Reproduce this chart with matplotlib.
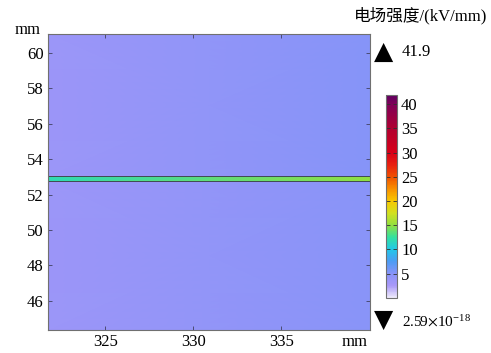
import numpy as np
import matplotlib
matplotlib.use("Agg")
import matplotlib.pyplot as plt
from matplotlib.colors import LinearSegmentedColormap

plt.rcParams['font.family'] = ['Liberation Serif', 'Noto Sans CJK SC', 'DejaVu Sans']
plt.rcParams['font.size'] = 12
plt.rcParams['mathtext.fontset'] = 'stix'

# field values (kV/mm) at the domain corners / layer
x_nodes = [321.75, 340.05]
y_bottom, y_top = 44.35, 61.07
layer_y = [52.78, 53.04]
bg_lower = [3.5, 5.0]      # below the layer, left -> right
bg_upper = [3.6, 5.1]      # above the layer, left -> right
layer_vals = [11.8, 15.0]  # inside the layer, left -> right
e_max = 41.9
e_min_label = r"2.59$\times$10$^{\mathregular{-18}}$"

x_ticks = [325, 330, 335]
y_ticks = [46, 48, 50, 52, 54, 56, 58, 60]
cbar_ticks = [5, 10, 15, 20, 25, 30, 35, 40]

cmap_colors = ["#eeeafb", "#a898f8", "#8894f8", "#4c9cf4", "#22c8e8",
               "#34e0a0", "#92e040", "#d2e020", "#f8c800", "#f89000",
               "#f05000", "#e82010", "#d80018", "#b00030", "#800058", "#600060"]
cmap_pos = [0, 2.5, 5, 7.5, 10, 12.5, 15, 17.5, 20, 22.5, 25, 27.5, 30, 35, 40, 41.9]

cmap = LinearSegmentedColormap.from_list(
    "field", list(zip([p / e_max for p in cmap_pos], cmap_colors)))

fig = plt.figure(figsize=(4.91, 3.53), dpi=100)
ax = fig.add_axes([0.0978, 0.0652, 0.656, 0.8385])

X = np.array(x_nodes)
eps = 0.005
Y = np.array([y_bottom, layer_y[0] - eps, layer_y[0], layer_y[1], layer_y[1] + eps, y_top])
XX, YY = np.meshgrid(X, Y)
Z = np.array([bg_lower, bg_lower, layer_vals, layer_vals, bg_upper, bg_upper])
mesh = ax.pcolormesh(XX, YY, Z, cmap=cmap, vmin=0, vmax=e_max, shading='gouraud')
for yl in layer_y:
    ax.axhline(yl, color="#404a50", lw=0.7)

ax.set_xlim(x_nodes)
ax.set_ylim(y_bottom, y_top)
ax.set_xticks(x_ticks)
ax.set_yticks(y_ticks)
ax.tick_params(direction='in', top=True, right=True, length=3, width=0.6,
               color="#404060", labelsize=12, pad=3)
for s in ax.spines.values():
    s.set_color("#707070")
    s.set_linewidth(0.8)

fig.text(0.057, 0.915, "mm", ha='center', va='center', fontsize=12)
fig.text(0.723, 0.032, "mm", ha='center', va='center', fontsize=12)

cax = fig.add_axes([0.786, 0.156, 0.0224, 0.575])
cb = fig.colorbar(mesh, cax=cax, ticks=cbar_ticks)
cb.outline.set_edgecolor("#707070")
cb.outline.set_linewidth(0.8)
cax.tick_params(direction='in', length=3, width=0.6, color="#303030",
                labelsize=12, pad=3, left=True)

fig.text(0.993, 0.955, "电场强度/(kV/mm)", ha='right', va='center', fontsize=12)
fig.text(0.762, 0.852, "▲", family='DejaVu Sans', fontsize=18, ha='left', va='center')
fig.text(0.818, 0.852, f"{e_max}", ha='left', va='center', fontsize=12)
fig.text(0.762, 0.095, "▼", family='DejaVu Sans', fontsize=18, ha='left', va='center')
fig.text(0.818, 0.09, e_min_label, ha='left', va='center', fontsize=11)

fig.savefig("out.png", dpi=100)
